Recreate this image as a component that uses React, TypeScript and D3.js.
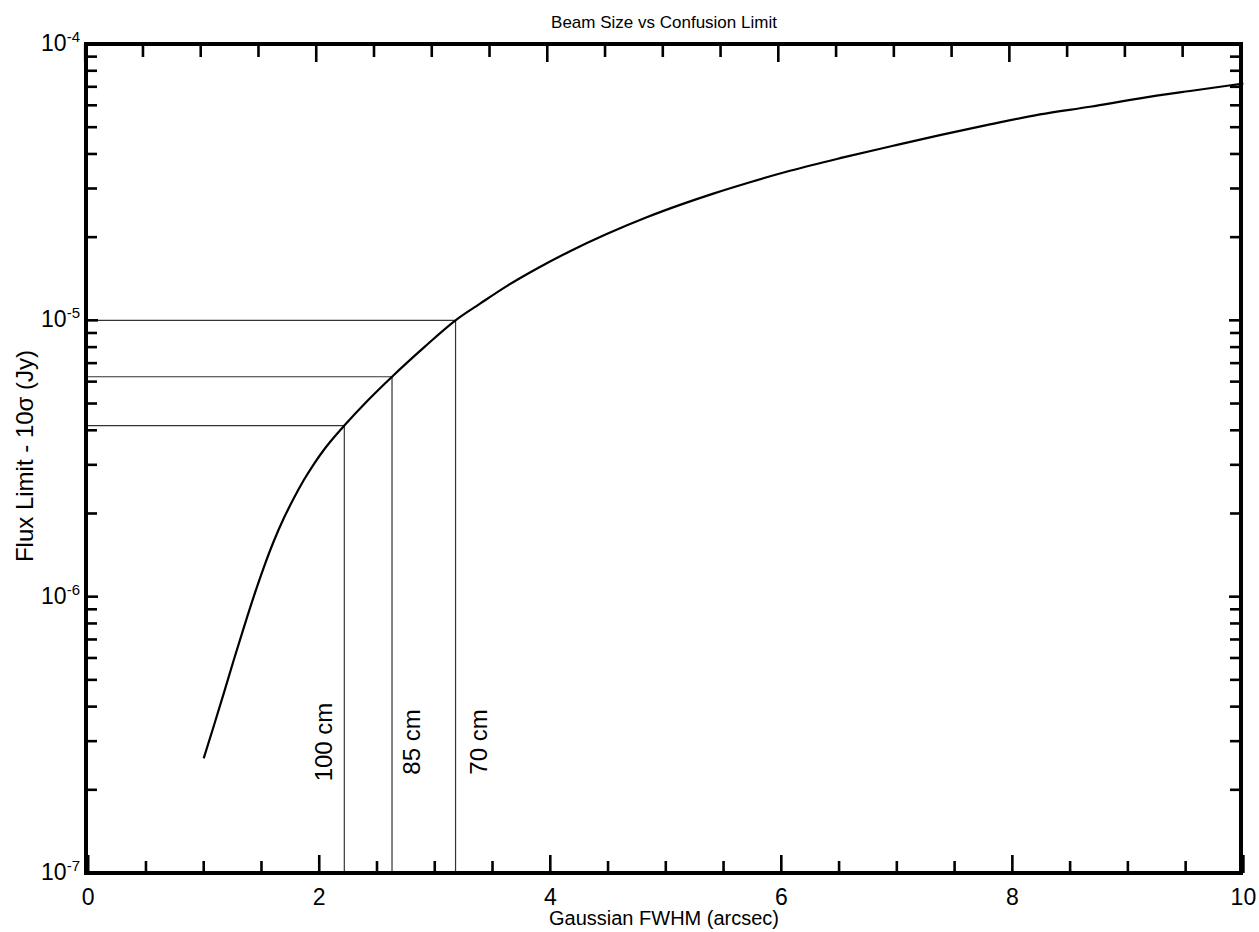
import React from "react";
import * as d3 from "d3";

// Confusion-limited flux (10 sigma, Jy) as a function of Gaussian beam FWHM (arcsec)
const fwhm = [
  1.0, 1.089, 1.176, 1.262, 1.349, 1.435, 1.522, 1.608, 1.695, 1.782, 1.868,
  1.955, 2.041, 2.128, 2.217, 2.422, 2.63, 2.907, 3.18, 3.392, 3.623, 3.882,
  4.171, 4.488, 4.835, 5.123, 5.411, 5.729, 6.075, 6.508, 6.941, 7.373, 7.806,
  8.239, 8.672, 9.105, 9.538, 10.0,
];
const flux = [
  2.6e-7, 3.424e-7, 4.507e-7, 5.934e-7, 7.779e-7, 1.007e-6, 1.283e-6, 1.593e-6,
  1.929e-6, 2.279e-6, 2.648e-6, 3.026e-6, 3.401e-6, 3.773e-6, 4.16e-6, 5.136e-6,
  6.25e-6, 7.98e-6, 1.0e-5, 1.149e-5, 1.33e-5, 1.537e-5, 1.779e-5, 2.053e-5,
  2.361e-5, 2.617e-5, 2.875e-5, 3.161e-5, 3.477e-5, 3.862e-5, 4.257e-5,
  4.682e-5, 5.117e-5, 5.561e-5, 5.929e-5, 6.359e-5, 6.76e-5, 7.196e-5,
];

// Reference marks for dish sizes
const dishLabels = ["100 cm", "85 cm", "70 cm"];
const dishFwhm = [2.217, 2.63, 3.18];
const dishFlux = [4.16e-6, 6.25e-6, 1.0e-5];

const xMajorTicks = [0, 2, 4, 6, 8, 10];
const yDecades = [-7, -6, -5, -4];

const title = "Beam Size vs Confusion Limit";
const xTitle = "Gaussian FWHM (arcsec)";
const yTitle = "Flux Limit - 10\u03c3 (Jy)";

const W = 1259;
const H = 932;
const frame = { left: 86, right: 1241, top: 44, bottom: 873 };
const FONT = "'Liberation Sans', Arial, Helvetica, sans-serif";

// horizontal offset of each rotated dish label from its vertical guide
const labelOffsets = [-12, 28, 31];

export default function App() {
  const x = d3.scaleLinear().domain([0, 10]).range([88.2, 1243.4]);
  const y = d3.scaleLog().domain([1e-7, 1e-4]).range([frame.bottom, frame.top]);

  const xMinor = d3.range(0.5, 10, 0.5).filter((v) => v % 2 !== 0);
  const yMinor: number[] = [];
  for (let e = -7; e < -4; e++) {
    for (let m = 2; m <= 9; m++) yMinor.push(m * Math.pow(10, e));
  }

  const pts: [number, number][] = fwhm.map((f, i) => [f, flux[i]]);
  const line = d3
    .line<[number, number]>()
    .x((d) => x(d[0]))
    .y((d) => y(d[1]))
    .curve(d3.curveMonotoneX);

  const tickColor = "#000";

  return (
    <svg
      width={W}
      height={H}
      style={{ position: "absolute", left: 0, top: 0, background: "#fff" }}
      fontFamily={FONT}
    >
      <rect x={0} y={0} width={W} height={H} fill="#fff" />

      {/* guide lines for each dish size */}
      {dishFwhm.map((f, i) => (
        <g key={dishLabels[i]} stroke="#333" strokeWidth={1.2} fill="none">
          <line x1={frame.left} x2={x(f)} y1={y(dishFlux[i])} y2={y(dishFlux[i])} />
          <line x1={x(f)} x2={x(f)} y1={y(dishFlux[i])} y2={frame.bottom} />
        </g>
      ))}

      {/* dish labels */}
      {dishLabels.map((lab, i) => (
        <text
          key={lab}
          transform={`translate(${x(dishFwhm[i]) + labelOffsets[i]},742) rotate(-90)`}
          textAnchor="middle"
          fontSize={24}
          fill="#000"
        >
          {lab}
        </text>
      ))}

      {/* curve */}
      <path d={line(pts) || ""} fill="none" stroke="#000" strokeWidth={2.2} strokeLinejoin="round" />

      {/* x ticks, bottom and top */}
      {xMajorTicks.map((v) => (
        <g key={"xM" + v} stroke={tickColor} strokeWidth={2.6}>
          <line x1={x(v)} x2={x(v)} y1={frame.bottom} y2={frame.bottom - 18} />
          <line x1={x(v) - 3} x2={x(v) - 3} y1={frame.top} y2={frame.top + 18} />
        </g>
      ))}
      {xMinor.map((v) => (
        <g key={"xm" + v} stroke={tickColor} strokeWidth={2.6}>
          <line x1={x(v)} x2={x(v)} y1={frame.bottom} y2={frame.bottom - 12} />
          <line x1={x(v) - 3} x2={x(v) - 3} y1={frame.top} y2={frame.top + 13} />
        </g>
      ))}

      {/* y ticks, left and right */}
      {yDecades.map((e) => (
        <g key={"yM" + e} stroke={tickColor} strokeWidth={2.6}>
          <line x1={frame.left} x2={frame.left + 12} y1={y(Math.pow(10, e))} y2={y(Math.pow(10, e))} />
          <line x1={frame.right} x2={frame.right - 12} y1={y(Math.pow(10, e))} y2={y(Math.pow(10, e))} />
        </g>
      ))}
      {yMinor.map((v) => (
        <g key={"ym" + v} stroke={tickColor} strokeWidth={2.6}>
          <line x1={frame.left} x2={frame.left + 11} y1={y(v)} y2={y(v)} />
          <line x1={frame.right} x2={frame.right - 11} y1={y(v)} y2={y(v)} />
        </g>
      ))}

      {/* frame */}
      <rect
        x={frame.left}
        y={frame.top}
        width={frame.right - frame.left}
        height={frame.bottom - frame.top}
        fill="none"
        stroke="#000"
        strokeWidth={4}
      />

      {/* x tick labels */}
      {xMajorTicks.map((v) => (
        <text key={"xl" + v} x={x(v)} y={905} textAnchor="middle" fontSize={23} fill="#000">
          {v}
        </text>
      ))}

      {/* y tick labels */}
      {yDecades.map((e) => (
        <text key={"yl" + e} x={80} y={y(Math.pow(10, e)) + 7} textAnchor="end" fontSize={23} fill="#000">
          10
          <tspan fontSize={15} dy={-9}>
            {e}
          </tspan>
        </text>
      ))}

      {/* titles */}
      <text x={664} y={28} textAnchor="middle" fontSize={17} fill="#000">
        {title}
      </text>
      <text x={664} y={925} textAnchor="middle" fontSize={20} fill="#000">
        {xTitle}
      </text>
      <text transform="translate(33,456) rotate(-90)" textAnchor="middle" fontSize={24} fill="#000">
        {yTitle}
      </text>
    </svg>
  );
}
